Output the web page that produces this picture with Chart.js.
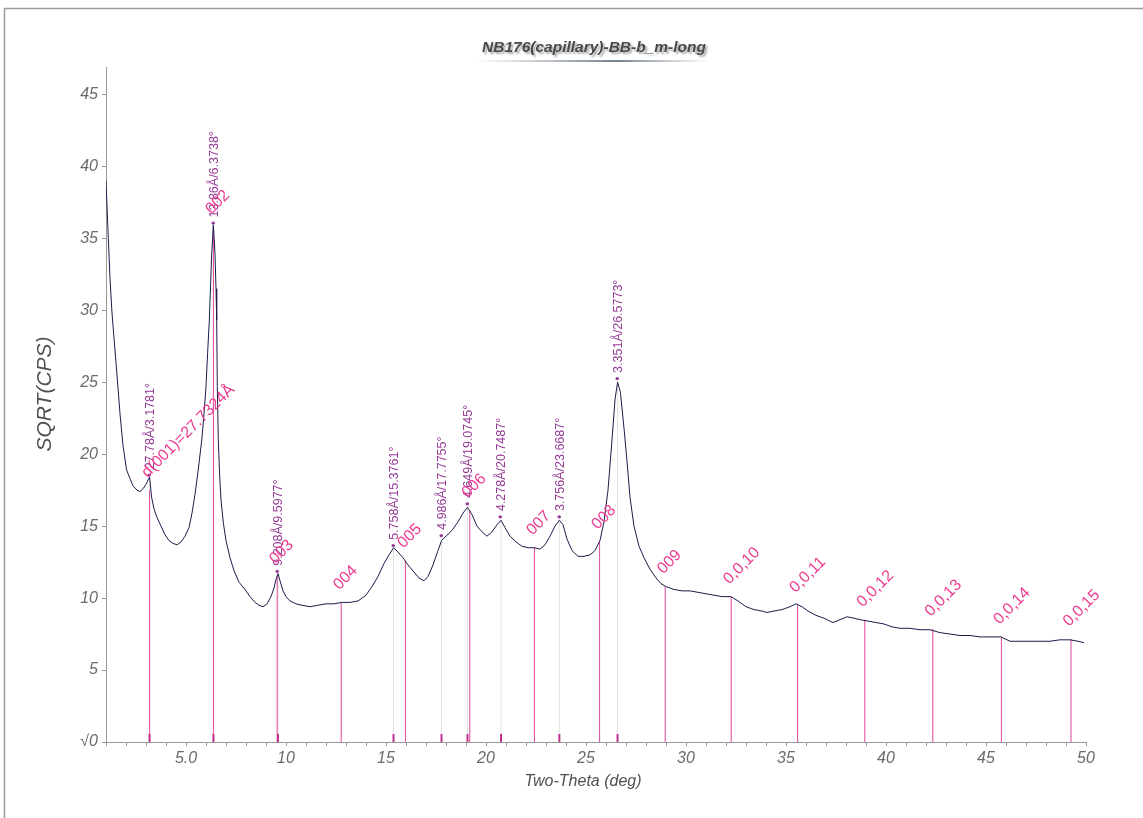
<!DOCTYPE html>
<html>
<head>
<meta charset="utf-8">
<title>NB176(capillary)-BB-b_m-long</title>
<script src="https://cdn.jsdelivr.net/npm/chart.js@4.4.1/dist/chart.umd.min.js"></script>
<style>
  html, body { margin: 0; padding: 0; background: #fff; }
  canvas { display: block; }
</style>
</head>
<body>
<canvas id="xrdChart" width="1143" height="818"></canvas>
<script>
// difratograma (2theta em graus / sqrt das contagens)
const twoTheta = [
  1.0, 1.1, 1.2, 1.3, 1.45, 1.6, 1.7, 1.85, 2.03, 2.2,
  2.35, 2.55, 2.7, 2.85, 3.0, 3.1, 3.18, 3.28, 3.4, 3.55,
  3.75, 3.95, 4.15, 4.35, 4.55, 4.75, 4.95, 5.15, 5.3, 5.45,
  5.6, 5.79, 5.9, 6.0, 6.08, 6.165, 6.23, 6.285, 6.33, 6.365,
  6.41, 6.45, 6.5, 6.535, 6.565, 6.615, 6.68, 6.75, 6.87, 7.0,
  7.2, 7.4, 7.65, 7.95, 8.2, 8.45, 8.65, 8.85, 9.05, 9.25,
  9.4, 9.5, 9.6, 9.7, 9.85, 10.0, 10.2, 10.5, 10.8, 11.2,
  11.6, 12.0, 12.4, 12.8, 13.2, 13.6, 14.0, 14.3, 14.6, 14.9,
  15.15, 15.38, 15.6, 15.85, 16.1, 16.4, 16.65, 16.9, 17.1, 17.35,
  17.6, 17.78, 18.0, 18.3, 18.6, 18.85, 19.07, 19.3, 19.55, 19.8,
  20.05, 20.3, 20.55, 20.75, 20.95, 21.2, 21.5, 21.8, 22.1, 22.4,
  22.7, 22.95, 23.2, 23.45, 23.67, 23.85, 24.05, 24.3, 24.6, 24.9,
  25.2, 25.45, 25.7, 25.9, 26.1, 26.3, 26.45, 26.58, 26.72, 26.9,
  27.05, 27.2, 27.4, 27.65, 27.9, 28.2, 28.5, 28.75, 29.0, 29.4,
  29.8, 30.2, 30.6, 31.0, 31.4, 31.8, 32.25, 32.6, 33.0, 33.4,
  33.8, 34.05, 34.4, 34.8, 35.2, 35.5, 35.8, 36.1, 36.5, 36.9,
  37.35, 37.7, 38.05, 38.4, 38.7, 39.1, 39.5, 39.9, 40.3, 40.7,
  41.2, 41.7, 42.2, 42.7, 43.2, 43.7, 44.2, 44.7, 45.2, 45.75,
  46.2, 46.7, 47.2, 47.7, 48.2, 48.7, 49.2, 49.6, 49.9
];
const sqrtCps = [
  39.0, 35.5, 32.2, 29.8, 27.2, 24.6, 22.8, 20.6, 18.9, 18.3,
  17.8, 17.5, 17.4, 17.6, 17.9, 18.2, 18.4, 17.0, 16.2, 15.6,
  15.0, 14.4, 14.0, 13.8, 13.7, 13.9, 14.3, 14.9, 15.9, 17.2,
  18.8, 21.0, 22.8, 24.7, 27.0, 29.3, 31.8, 33.9, 35.0, 35.9,
  35.0, 33.9, 31.5, 29.3, 24.7, 21.0, 18.6, 16.8, 15.2, 14.0,
  12.8, 11.9, 11.1, 10.6, 10.1, 9.7, 9.5, 9.4, 9.6, 10.1,
  10.7, 11.3, 11.7, 11.2, 10.5, 10.1, 9.8, 9.6, 9.5, 9.4,
  9.5, 9.6, 9.6, 9.7, 9.7, 9.8, 10.2, 10.8, 11.5, 12.4,
  13.0, 13.5, 13.2, 12.8, 12.3, 11.8, 11.4, 11.2, 11.5, 12.3,
  13.3, 14.0, 14.3, 14.7, 15.3, 15.9, 16.3, 15.8, 15.0, 14.6,
  14.3, 14.6, 15.1, 15.4, 14.9, 14.3, 13.9, 13.6, 13.5, 13.5,
  13.4, 13.7, 14.3, 15.0, 15.4, 15.1, 14.1, 13.3, 12.9, 12.9,
  13.0, 13.3, 14.0, 15.3, 17.5, 21.0, 23.8, 25.0, 24.3, 21.8,
  19.5, 17.0, 15.0, 13.6, 12.8, 12.0, 11.4, 11.0, 10.8, 10.6,
  10.5, 10.5, 10.4, 10.3, 10.2, 10.1, 10.1, 9.8, 9.4, 9.2,
  9.1, 9.0, 9.1, 9.2, 9.4, 9.6, 9.4, 9.1, 8.8, 8.6,
  8.3, 8.5, 8.7, 8.6, 8.5, 8.4, 8.3, 8.2, 8.0, 7.9,
  7.9, 7.8, 7.8, 7.6, 7.5, 7.4, 7.4, 7.3, 7.3, 7.3,
  7.0, 7.0, 7.0, 7.0, 7.0, 7.1, 7.1, 7.0, 6.9
];

// picos identificados
const peakTheta = [3.1781, 6.3738, 9.5977, 15.3761, 17.7755, 19.0745, 20.7487, 23.6687, 26.5773];
const peakD = ["27.78", "13.86", "9.208", "5.758", "4.986", "4.649", "4.278", "3.756", "3.351"];
const peakTop = [18.4, 35.9, 11.7, 13.5, 14.2, 16.4, 15.5, 15.5, 25.1];

// reflexoes basais 00l
const hklLabels = ["d(001)=27.7324Å", "002", "003", "004", "005", "006", "007", "008",
  "009", "0,0,10", "0,0,11", "0,0,12", "0,0,13", "0,0,14", "0,0,15"];
const hklTheta = [3.18, 6.37, 9.56, 12.76, 15.97, 19.19, 22.42, 25.68,
  28.96, 32.26, 35.58, 38.94, 42.34, 45.77, 49.25];
const hklTop = [17.5, 35.8, 11.5, 9.7, 12.6, 16.1, 13.5, 13.9,
  10.8, 10.1, 9.5, 8.5, 7.85, 7.3, 7.15];

const FONTE = "'Liberation Sans', Arial, sans-serif";

// segmentos verticais separados por null
function segmentos(xs, tops) {
  const pts = [];
  xs.forEach((t, i) => {
    pts.push({ x: t, y: 0 }, { x: t, y: tops[i] }, { x: t, y: null });
  });
  return pts;
}

const marcacoes = {
  id: "marcacoes",
  beforeDraw(chart) {
    const ctx = chart.ctx;
    ctx.save();
    ctx.fillStyle = "#fff";
    ctx.fillRect(0, 0, chart.width, chart.height);
    ctx.strokeStyle = "#9a9a9a";
    ctx.lineWidth = 1.5;
    ctx.beginPath();
    ctx.moveTo(4.5, chart.height);
    ctx.lineTo(4.5, 8.5);
    ctx.lineTo(chart.width, 8.5);
    ctx.stroke();
    ctx.restore();
  },
  afterDatasetsDraw(chart) {
    const { ctx, scales: { x, y } } = chart;
    const y0 = y.getPixelForValue(0);
    ctx.save();

    // tracinhos na base
    ctx.strokeStyle = "#c0308a";
    ctx.lineWidth = 2;
    peakTheta.forEach(t => {
      const px = x.getPixelForValue(t);
      ctx.beginPath();
      ctx.moveTo(px, y0);
      ctx.lineTo(px, y0 - 8);
      ctx.stroke();
    });

    // rotulos dos picos
    ctx.fillStyle = "#953a95";
    ctx.font = "12.5px " + FONTE;
    ctx.textAlign = "left";
    ctx.textBaseline = "middle";
    peakTheta.forEach((t, i) => {
      const px = x.getPixelForValue(t);
      const py = y.getPixelForValue(peakTop[i]);
      ctx.save();
      ctx.translate(px + 1, py);
      ctx.rotate(-Math.PI / 2);
      ctx.fillText(`• ${peakD[i]}Å/${t.toFixed(4)}°`, 0, 0);
      ctx.restore();
    });

    // rotulos 00l
    ctx.fillStyle = "#ec3a90";
    ctx.font = "16px " + FONTE;
    ctx.textBaseline = "alphabetic";
    hklLabels.forEach((txt, i) => {
      const px = x.getPixelForValue(hklTheta[i]);
      const py = y.getPixelForValue(hklTop[i]);
      ctx.save();
      ctx.translate(px - 2, py - 12);
      ctx.rotate(-Math.PI / 4);
      ctx.fillText(txt, 0, 0);
      ctx.restore();
    });

    ctx.restore();
  },
  afterDraw(chart) {
    const { ctx, chartArea } = chart;
    ctx.save();

    // titulo com sombra
    ctx.font = "italic bold 15.5px " + FONTE;
    ctx.textAlign = "center";
    ctx.textBaseline = "middle";
    ctx.shadowColor = "rgba(0,0,0,0.35)";
    ctx.shadowOffsetX = 2;
    ctx.shadowOffsetY = 2;
    ctx.shadowBlur = 2;
    ctx.fillStyle = "#484848";
    ctx.fillText("NB176(capillary)-BB-b_m-long", 594, 48);
    ctx.shadowColor = "transparent";

    const grad = ctx.createLinearGradient(475, 0, 710, 0);
    grad.addColorStop(0, "rgba(120,135,150,0)");
    grad.addColorStop(0.6, "rgba(100,115,130,0.9)");
    grad.addColorStop(1, "rgba(120,135,150,0)");
    ctx.fillStyle = grad;
    ctx.fillRect(475, 60, 235, 2);

    // titulos dos eixos
    ctx.fillStyle = "#505050";
    ctx.font = "italic 21px " + FONTE;
    ctx.translate(45, 394);
    ctx.rotate(-Math.PI / 2);
    ctx.fillText("SQRT(CPS)", 0, 0);
    ctx.setTransform(1, 0, 0, 1, 0, 0);

    ctx.font = "italic 16px " + FONTE;
    ctx.fillText("Two-Theta (deg)", 583, chartArea.bottom + 40);
    ctx.restore();
  }
};

const ctx = document.getElementById("xrdChart").getContext("2d");

const xrdChart = new Chart(ctx, {
  type: "scatter",
  data: {
    datasets: [
      {
        label: "NB176",
        data: twoTheta.map((t, i) => ({ x: t, y: sqrtCps[i] })),
        showLine: true,
        borderColor: "#1c1c4c",
        borderWidth: 1,
        pointRadius: 0,
        tension: 0,
        order: 1
      },
      {
        label: "00l",
        data: segmentos(hklTheta, hklTop),
        showLine: true,
        spanGaps: false,
        borderColor: "#e0479a",
        borderWidth: 1,
        pointRadius: 0,
        order: 2
      },
      {
        label: "picos",
        data: segmentos(peakTheta, peakTop),
        showLine: true,
        spanGaps: false,
        borderColor: "#e2e2e2",
        borderWidth: 1,
        pointRadius: 0,
        order: 3
      }
    ]
  },
  options: {
    responsive: false,
    animation: false,
    devicePixelRatio: 1,
    layout: { padding: { top: 67, right: 57, left: 0, bottom: 0 } },
    plugins: {
      legend: { display: false },
      tooltip: { enabled: false }
    },
    scales: {
      x: {
        type: "linear",
        min: 1,
        max: 50,
        afterFit: s => { s.height = 76; },
        grid: { drawOnChartArea: false, drawTicks: true, tickLength: 4, color: "#999" },
        border: { color: "#999" },
        ticks: {
          stepSize: 1,
          autoSkip: false,
          maxRotation: 0,
          padding: 3,
          color: "#6b6b6b",
          font: { family: FONTE, size: 16, style: "italic" },
          callback: v => (v === 5 ? "5.0" : (v % 5 === 0 ? String(v) : ""))
        }
      },
      y: {
        min: 0,
        max: 46.9,
        afterFit: s => { s.width = 106; },
        afterBuildTicks: s => { s.ticks = s.ticks.filter(t => t.value % 5 === 0); },
        grid: { drawOnChartArea: false, drawTicks: true, tickLength: 4, color: "#999" },
        border: { color: "#999" },
        ticks: {
          stepSize: 5,
          padding: 4,
          color: "#6b6b6b",
          font: { family: FONTE, size: 16, style: "italic" },
          callback: v => (v === 0 ? "√0" : String(v))
        }
      }
    }
  },
  plugins: [marcacoes]
});
</script>
</body>
</html>
